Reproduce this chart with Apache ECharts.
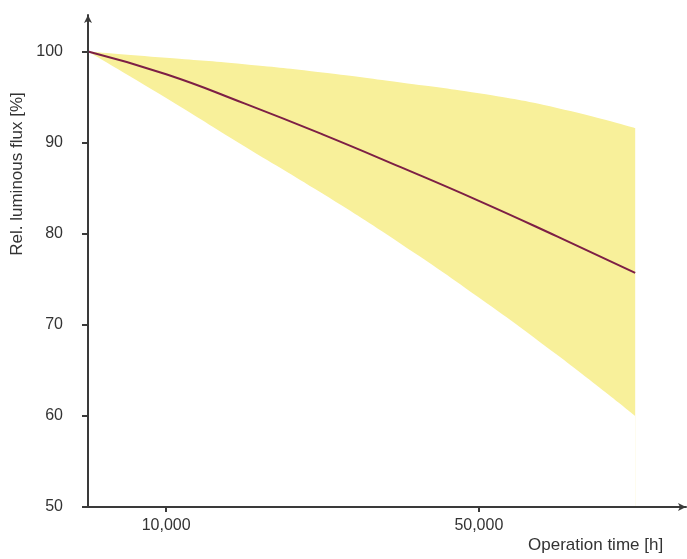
<!DOCTYPE html>
<html>
<head>
<meta charset="utf-8">
<script src="https://cdn.jsdelivr.net/npm/echarts@6/dist/echarts.min.js"></script>
<style>
  html, body { margin: 0; padding: 0; background: #fff; }
  #chart { width: 687px; height: 559px; }
</style>
</head>
<body>
<div id="chart"></div>
<script>
// operating hours and relative luminous flux (%)
const hours = [0, 10000, 20000, 30000, 40000, 50000, 60000, 70000];
const fluxTypical = [100, 97.5, 94.3, 90.9, 87.3, 83.6, 79.7, 75.7];
const fluxUpper = [100, 99.3, 98.6, 97.7, 96.6, 95.4, 93.8, 91.6];
const fluxLower = [100, 94.9, 89.6, 84.4, 78.9, 73.0, 66.7, 60];
const xTicks = [10000, 50000];
const yTicks = [50, 60, 70, 80, 90, 100];

const chart = echarts.init(document.getElementById("chart"));

const font = "Liberation Sans, Arial, sans-serif";
const axisStyle = { color: "#3a3a3a", width: 2 };
const labelStyle = { color: "#333", fontSize: 16, fontFamily: font };

const option = {
  animation: false,
  grid: { left: 88, top: 15, right: 1, bottom: 52 },
  xAxis: {
    type: "value",
    min: 0,
    max: 76500,
    z: 5,
    splitLine: { show: false },
    axisLine: { lineStyle: axisStyle, symbol: ["none", "arrow"], symbolSize: [6, 8] },
    axisTick: { customValues: xTicks, length: 5, lineStyle: { color: "#3a3a3a", width: 2 } },
    axisLabel: {
      customValues: xTicks,
      margin: 11,
      ...labelStyle,
      formatter: (v) => v.toLocaleString("en-US"),
    },
  },
  yAxis: {
    type: "value",
    min: 50,
    max: 104,
    z: 5,
    splitLine: { show: false },
    axisLine: { lineStyle: axisStyle, symbol: ["none", "arrow"], symbolSize: [6, 8] },
    axisTick: { customValues: yTicks, length: 6, lineStyle: { color: "#3a3a3a", width: 2 } },
    axisLabel: { customValues: yTicks, margin: 25, ...labelStyle },
  },
  series: [
    {
      // yellow band: fill below the upper limit ...
      name: "upper",
      type: "line",
      smooth: true,
      symbol: "none",
      lineStyle: { width: 0 },
      areaStyle: { color: "#f8f09a", opacity: 1, origin: "start" },
      data: hours.map((h, i) => [h, fluxUpper[i]]),
      z: 1,
    },
    {
      // ... then blank out everything below the lower limit
      name: "lower",
      type: "line",
      smooth: true,
      symbol: "none",
      lineStyle: { width: 0 },
      areaStyle: { color: "#ffffff", opacity: 1, origin: "start" },
      data: hours.map((h, i) => [h, fluxLower[i]]),
      z: 2,
    },
    {
      name: "typical",
      type: "line",
      smooth: true,
      symbol: "none",
      lineStyle: { color: "#7d1f45", width: 2 },
      data: hours.map((h, i) => [h, fluxTypical[i]]),
      z: 3,
    },
  ],
  graphic: [
    {
      type: "text",
      left: 528,
      top: 537,
      style: { text: "Operation time [h]", fill: "#333", font: "17px " + font },
    },
    {
      type: "text",
      x: 17,
      y: 174,
      rotation: Math.PI / 2,
      style: {
        text: "Rel. luminous flux [%]",
        fill: "#333",
        font: "17px " + font,
        align: "center",
        verticalAlign: "middle",
      },
    },
  ],
};

chart.setOption(option);
</script>
</body>
</html>
